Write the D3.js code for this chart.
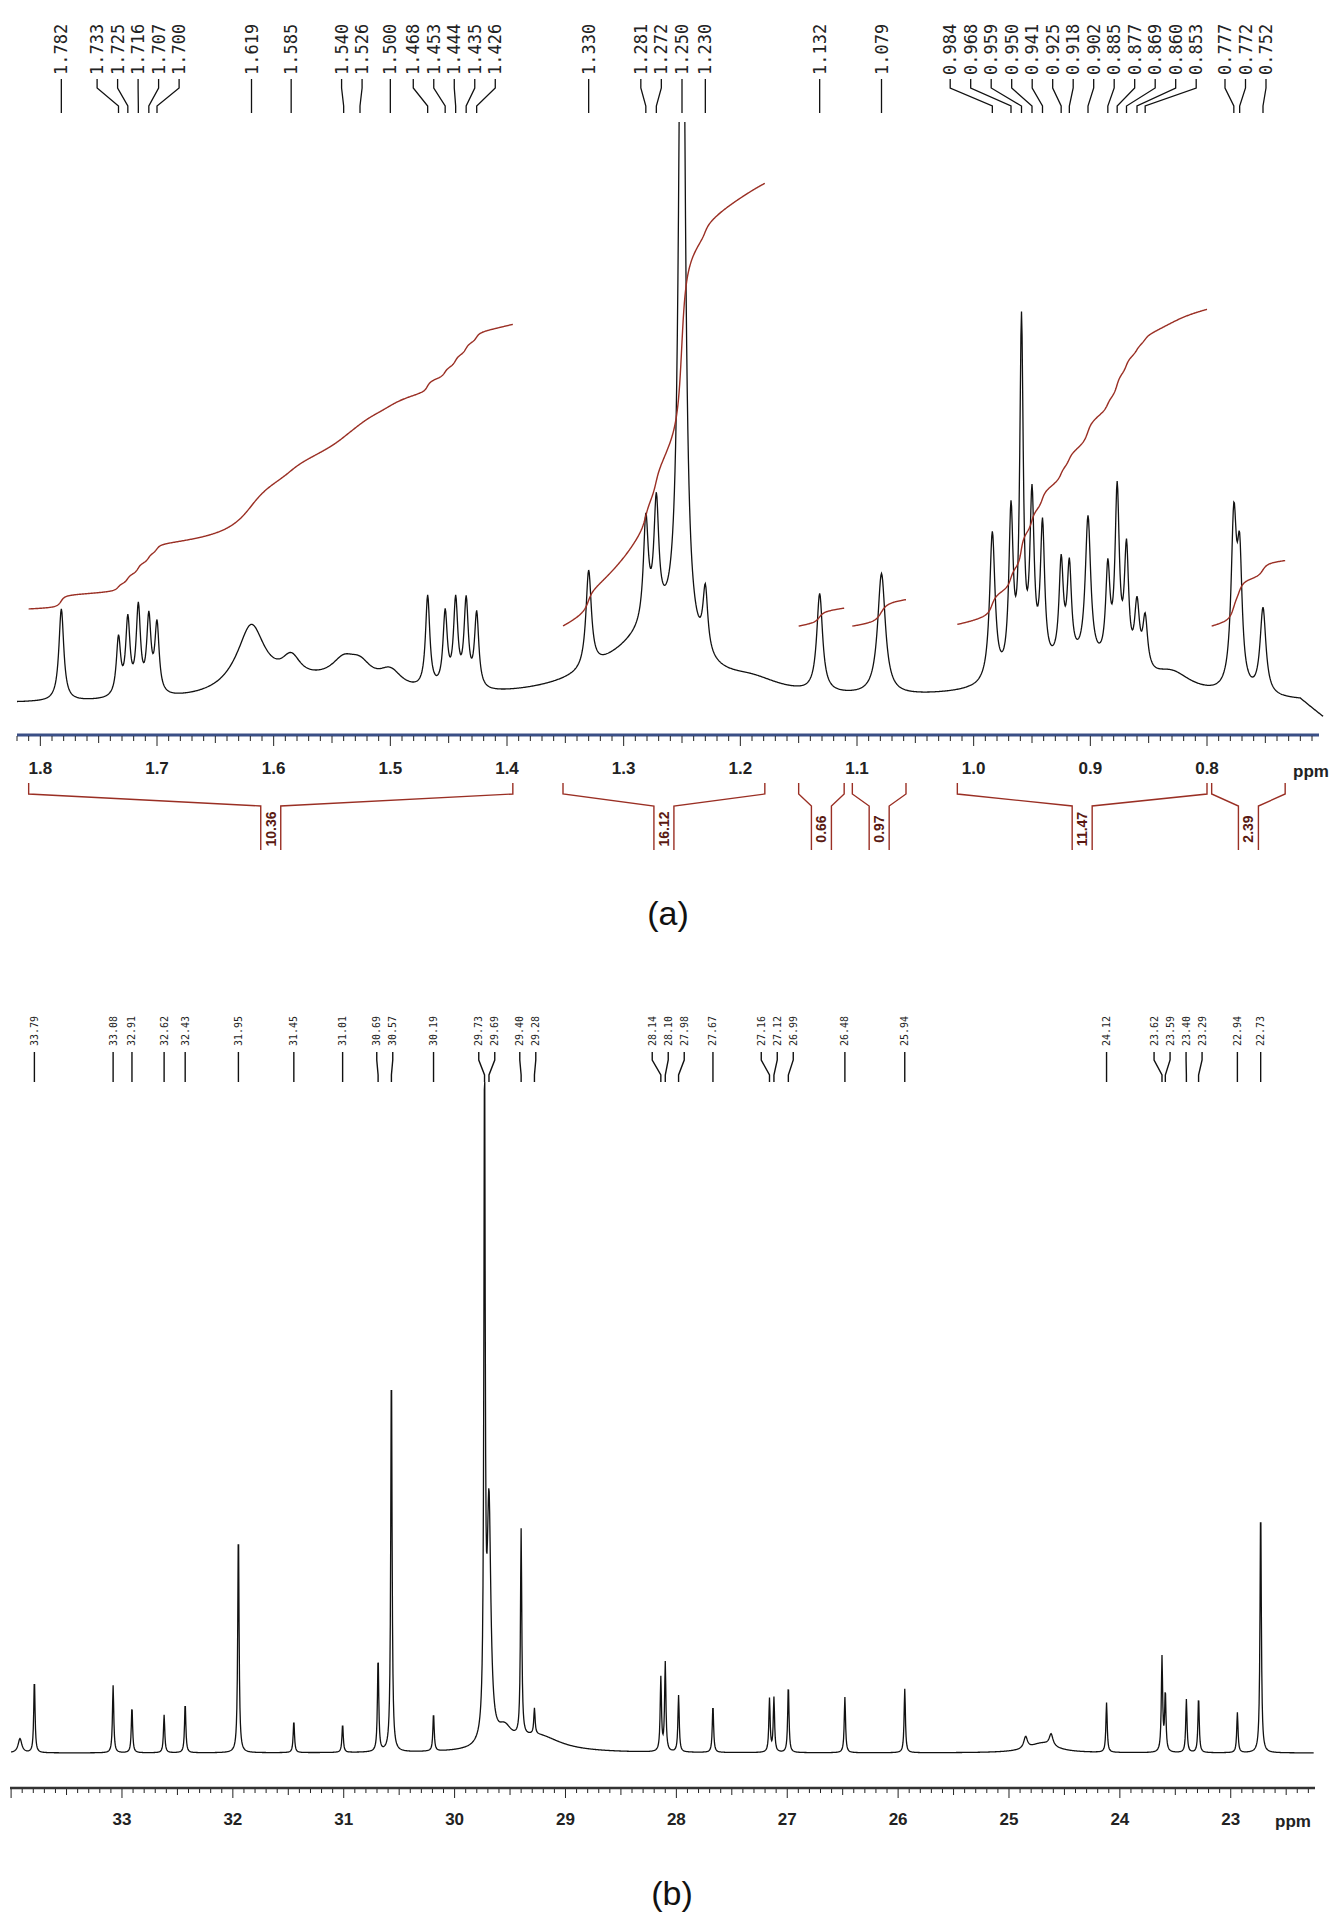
<!DOCTYPE html>
<html>
<head>
<meta charset="utf-8">
<script src="https://cdn.jsdelivr.net/npm/d3@7"></script>
<style>
  body { margin: 0; background: #fff; }
  svg { display: block; }
</style>
</head>
<body>
<svg id="chart" width="1343" height="1919"></svg>
<script>
// ---- data (a) 1H ----
var hPeaks = [1.782, 1.733, 1.725, 1.716, 1.707, 1.700, 1.619, 1.585, 1.540, 1.526, 1.500,
  1.468, 1.453, 1.444, 1.435, 1.426, 1.330, 1.281, 1.272, 1.250, 1.230, 1.132, 1.079,
  0.984, 0.968, 0.959, 0.950, 0.941, 0.925, 0.918, 0.902, 0.885, 0.877, 0.869, 0.860, 0.853,
  0.777, 0.772, 0.752];
var hHeights = [16, 10, 13, 15, 13, 12, 6, 4, 3, 3, 3,
  16, 13, 15, 15, 13, 17, 18, 20, 160, 11, 17, 21,
  26, 28, 60, 29, 24, 17, 16, 25, 16, 30, 20, 11, 9,
  29, 21, 15];
var hWidths = [0.0025, 0.0022, 0.0022, 0.0022, 0.0022, 0.0022, 0.012, 0.01, 0.012, 0.012, 0.012,
  0.0022, 0.0022, 0.0022, 0.0022, 0.0022, 0.0028, 0.0025, 0.0025, 0.0028, 0.0025, 0.003, 0.004,
  0.0028, 0.0022, 0.0018, 0.0022, 0.0022, 0.0022, 0.0022, 0.0028, 0.0022, 0.0022, 0.0022, 0.0025, 0.0025,
  0.0028, 0.0025, 0.003];
// broad background humps [ppm, half-width, height]
var hHumps = [[1.62, 0.02, 6], [1.55, 0.05, 3], [1.27, 0.035, 9], [1.30, 0.06, 4],
  [0.91, 0.06, 6], [0.83, 0.02, 3], [1.19, 0.03, 2]];
var intRanges = [[1.810, 1.395], [1.352, 1.179], [1.150, 1.111], [1.104, 1.058], [1.014, 0.800], [0.796, 0.733]];
var intValues = [10.36, 16.12, 0.66, 0.97, 11.47, 2.39];
var intStart = [16.5, 13.5, 13.5, 13.5, 13.8, 13.5];
var hTicks = [1.8, 1.7, 1.6, 1.5, 1.4, 1.3, 1.2, 1.1, 1.0, 0.9, 0.8];

// ---- data (b) 13C ----
var cPeaks = [33.79, 33.08, 32.91, 32.62, 32.43, 31.95, 31.45, 31.01, 30.69, 30.57, 30.19,
  29.73, 29.69, 29.40, 29.28, 28.14, 28.10, 27.98, 27.67, 27.16, 27.12, 26.99, 26.48, 25.94,
  24.12, 23.62, 23.59, 23.40, 23.29, 22.94, 22.73];
var cHeights = [62, 57, 39, 32, 42, 190, 27, 24, 80, 330, 32,
  560, 200, 175, 22, 62, 75, 48, 40, 45, 46, 57, 47, 54,
  42, 80, 50, 45, 47, 34, 210];
var cHumps = [[29.25, 0.25, 14], [29.55, 0.08, 15], [24.7, 0.15, 8], [24.85, 0.02, 10], [24.62, 0.02, 10], [33.92, 0.02, 12]];
var cTicks = [33, 32, 31, 30, 29, 28, 27, 26, 25, 24, 23];

var red = "#9a2f24";
var svg = d3.select("#chart");

function lor(x, x0, g, h) { var d = (x - x0) / g; return h / (1 + d * d); }

function spread(targets, gap) {
  // place labels left-to-right with min gap, centred on groups
  var items = targets.map(function (t) { return { t: t }; });
  var groups = items.map(function (it) { return { items: [it], c: it.t }; });
  var merged = true;
  while (merged) {
    merged = false;
    for (var i = 0; i < groups.length - 1; i++) {
      var a = groups[i], b = groups[i + 1];
      var aEnd = a.c + (a.items.length - 1) * gap / 2;
      var bStart = b.c - (b.items.length - 1) * gap / 2;
      if (bStart - aEnd < gap) {
        var items2 = a.items.concat(b.items);
        var c = d3.mean(items2, function (d) { return d.t; });
        groups.splice(i, 2, { items: items2, c: c });
        merged = true; break;
      }
    }
  }
  var out = [];
  groups.forEach(function (g) {
    var n = g.items.length, s = g.c - (n - 1) * gap / 2;
    g.items.forEach(function (it, k) { out.push(s + k * gap); });
  });
  return out;
}

// ================= (a) =================
var xA = d3.scaleLinear().domain([1.82, 0.704]).range([17, 1319]);
var yA = d3.scaleLinear().domain([0, 100]).range([704, 128]);

var hData = d3.range(1.82, 0.70, -0.0005).map(function (x) {
  var v = 0;
  hPeaks.forEach(function (p, i) { v += lor(x, p, hWidths[i], hHeights[i]); });
  hHumps.forEach(function (h) { v += lor(x, h[0], h[1], h[2]); });
  if (x < 0.72) v -= (0.72 - x) * 150;
  return { x: x, v: v };
});

svg.append("clipPath").attr("id", "clipA").append("rect")
  .attr("x", 0).attr("y", 122).attr("width", 1343).attr("height", 620);

svg.append("path").datum(hData)
  .attr("clip-path", "url(#clipA)")
  .attr("fill", "none").attr("stroke", "#111").attr("stroke-width", 1.3)
  .attr("d", d3.line().x(function (d) { return xA(d.x); }).y(function (d) { return yA(d.v); }));

// integral curves
var riseUnit = 4.77;
intRanges.forEach(function (r, i) {
  var pts = hData.filter(function (d) { return d.x <= r[0] && d.x >= r[1]; });
  var cum = 0, arr = [];
  pts.forEach(function (d) { cum += Math.max(d.v, 0); arr.push({ x: d.x, c: cum }); });
  var total = cum;
  svg.append("path").datum(arr)
    .attr("fill", "none").attr("stroke", red).attr("stroke-width", 1.4)
    .attr("d", d3.line()
      .x(function (d) { return xA(d.x); })
      .y(function (d) { return yA(intStart[i] + d.c / total * intValues[i] * riseUnit); }));
});

// axis (a)
var axA = svg.append("g");
axA.append("line").attr("x1", 17).attr("x2", 1319).attr("y1", 735).attr("y2", 735)
  .attr("stroke", "#3a4f86").attr("stroke-width", 3);
d3.range(182, 70, -1).forEach(function (k) {
  var v = k / 100, major = k % 10 === 0, mid = k % 5 === 0;
  axA.append("line").attr("x1", xA(v)).attr("x2", xA(v)).attr("y1", 736)
    .attr("y2", 736 + (major ? 10 : mid ? 7 : 5)).attr("stroke", "#222").attr("stroke-width", 1);
});
axA.selectAll("text.tick").data(hTicks).enter().append("text")
  .attr("x", function (d) { return xA(d); }).attr("y", 774)
  .attr("text-anchor", "middle").attr("font-family", "Liberation Sans, Arial").attr("font-weight", "bold")
  .attr("font-size", 17).attr("fill", "#222")
  .text(function (d) { return d.toFixed(1); });
axA.append("text").attr("x", 1311).attr("y", 777).attr("text-anchor", "middle")
  .attr("font-family", "Liberation Sans, Arial").attr("font-weight", "bold").attr("font-size", 17)
  .attr("fill", "#222").text("ppm");

// integral brackets
intRanges.forEach(function (r, i) {
  var x0 = xA(r[0]), x1 = xA(r[1]), xc = (x0 + x1) / 2, hw = 10;
  var g = svg.append("g").attr("stroke", red).attr("fill", "none").attr("stroke-width", 1.4);
  g.append("path").attr("d", "M" + x0 + ",783 L" + x0 + ",794 L" + (xc - hw) + ",806 L" + (xc - hw) + ",850");
  g.append("path").attr("d", "M" + x1 + ",783 L" + x1 + ",794 L" + (xc + hw) + ",806 L" + (xc + hw) + ",850");
  svg.append("text").attr("transform", "translate(" + (xc + 5) + ",829) rotate(-90)")
    .attr("text-anchor", "middle").attr("font-family", "Liberation Sans, Arial").attr("font-weight", "bold")
    .attr("font-size", 14).attr("fill", "#5a1a12").text(intValues[i].toFixed(2));
});

// peak labels (a)
var hLab = spread(hPeaks.map(function (p) { return xA(p); }), 20.5);
hPeaks.forEach(function (p, i) {
  var xl = hLab[i], xp = xA(p);
  svg.append("path").attr("fill", "none").attr("stroke", "#111").attr("stroke-width", 1.3)
    .attr("d", "M" + xl + ",79 L" + xl + ",88 L" + xp + ",106 L" + xp + ",113");
  svg.append("text").attr("transform", "translate(" + (xl + 6) + ",75) rotate(-90)")
    .attr("font-family", "DejaVu Sans Mono, monospace").attr("font-size", 17).attr("fill", "#222")
    .text(p.toFixed(3));
});

svg.append("text").attr("x", 668).attr("y", 925).attr("text-anchor", "middle")
  .attr("font-family", "Liberation Sans, Arial").attr("font-size", 34).attr("fill", "#111").text("(a)");

// ================= (b) =================
var xB = d3.scaleLinear().domain([34.01, 22.24]).range([10, 1315]);
var yB = d3.scaleLinear().domain([0, 560]).range([1753, 1090]);

var cData = d3.range(34.0, 22.25, -0.004).map(function (x) {
  var v = 0;
  cPeaks.forEach(function (p, i) { v += lor(x, p, p === 29.69 ? 0.02 : 0.007, cHeights[i]); });
  cHumps.forEach(function (h) { v += lor(x, h[0], h[1], h[2]); });
  return { x: x, v: v };
});
svg.append("path").datum(cData)
  .attr("fill", "none").attr("stroke", "#111").attr("stroke-width", 1.3)
  .attr("d", d3.line().x(function (d) { return xB(d.x); }).y(function (d) { return yB(d.v); }));

var axB = svg.append("g");
axB.append("line").attr("x1", 10).attr("x2", 1315).attr("y1", 1788).attr("y2", 1788)
  .attr("stroke", "#333").attr("stroke-width", 2.5);
d3.range(340, 222, -1).forEach(function (k) {
  var v = k / 10, major = k % 10 === 0, mid = k % 5 === 0;
  axB.append("line").attr("x1", xB(v)).attr("x2", xB(v)).attr("y1", 1789)
    .attr("y2", 1789 + (major ? 9 : mid ? 6 : 4)).attr("stroke", "#222").attr("stroke-width", 1);
});
axB.selectAll("text.tick").data(cTicks).enter().append("text")
  .attr("x", function (d) { return xB(d); }).attr("y", 1825)
  .attr("text-anchor", "middle").attr("font-family", "Liberation Sans, Arial").attr("font-weight", "bold")
  .attr("font-size", 17).attr("fill", "#222").text(function (d) { return d; });
axB.append("text").attr("x", 1293).attr("y", 1827).attr("text-anchor", "middle")
  .attr("font-family", "Liberation Sans, Arial").attr("font-weight", "bold").attr("font-size", 17)
  .attr("fill", "#222").text("ppm");

var cLab = spread(cPeaks.map(function (p) { return xB(p); }), 16);
cPeaks.forEach(function (p, i) {
  var xl = cLab[i], xp = xB(p);
  svg.append("path").attr("fill", "none").attr("stroke", "#111").attr("stroke-width", 1.4)
    .attr("d", "M" + xl + ",1052 L" + xl + ",1060 L" + xp + ",1075 L" + xp + ",1082");
  svg.append("text").attr("transform", "translate(" + (xl + 3.5) + ",1046) rotate(-90)")
    .attr("font-family", "DejaVu Sans Mono, monospace").attr("font-size", 10).attr("fill", "#222")
    .text(p.toFixed(2));
});

svg.append("text").attr("x", 672).attr("y", 1905).attr("text-anchor", "middle")
  .attr("font-family", "Liberation Sans, Arial").attr("font-size", 34).attr("fill", "#111").text("(b)");
</script>
</body>
</html>
